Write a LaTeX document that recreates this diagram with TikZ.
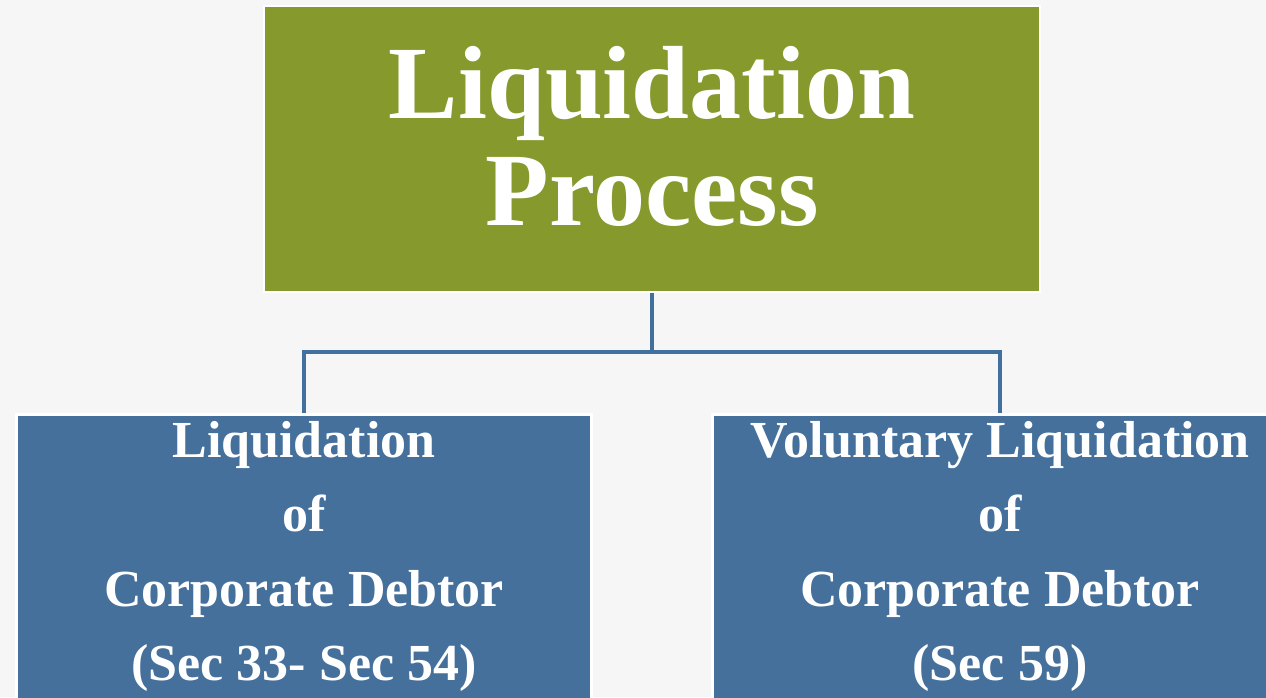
\documentclass[tikz,border=0pt]{standalone}
\usepackage{fontspec}
\setmainfont{Liberation Serif}
\definecolor{paper}{HTML}{F6F6F6}
\definecolor{olive}{HTML}{85992D}
\definecolor{steel}{HTML}{45709C}
\definecolor{wire}{HTML}{41709E}
\begin{document}
\begin{tikzpicture}[x=1pt,y=-1pt,
  headbox/.style={rectangle, fill=olive, draw=white, line width=2.5pt,
    minimum width=776pt, minimum height=286pt, inner sep=0pt,
    text=white, align=center, font=\fontsize{104}{107}\selectfont\bfseries},
  subbox/.style={rectangle, fill=steel, draw=white, line width=3pt,
    minimum width=575pt, minimum height=285pt, inner sep=0pt,
    text=white, align=center, font=\fontsize{52}{74.5}\selectfont\bfseries},
  conn/.style={draw=wire, line width=3.3pt}]
  % page area and backdrop
  \useasboundingbox (0,0) rectangle (1266,697);
  \fill[paper] (0,0) rectangle (1266,697);
  \begin{scope}
    \clip (0,0) rectangle (1266,697);
    % top-level heading
    \node[headbox] (head) at (652,149) {Liquidation\\Process\rule[-26pt]{0pt}{26pt}};
    % the two kinds of liquidation
    \node[subbox] (court) at (304,556.5) {Liquidation\\of\\Corporate Debtor\\(Sec 33- Sec 54)};
    \node[subbox] (volun) at (1000,556.5) {Voluntary Liquidation\\of\\Corporate Debtor\\(Sec 59)};
    % tree connectors
    \coordinate (fork) at (652,352);
    \draw[conn] (head.south) -- (fork);
    \draw[conn] (fork) -| (court.north);
    \draw[conn] (fork) -| (volun.north);
  \end{scope}
\end{tikzpicture}
\end{document}
